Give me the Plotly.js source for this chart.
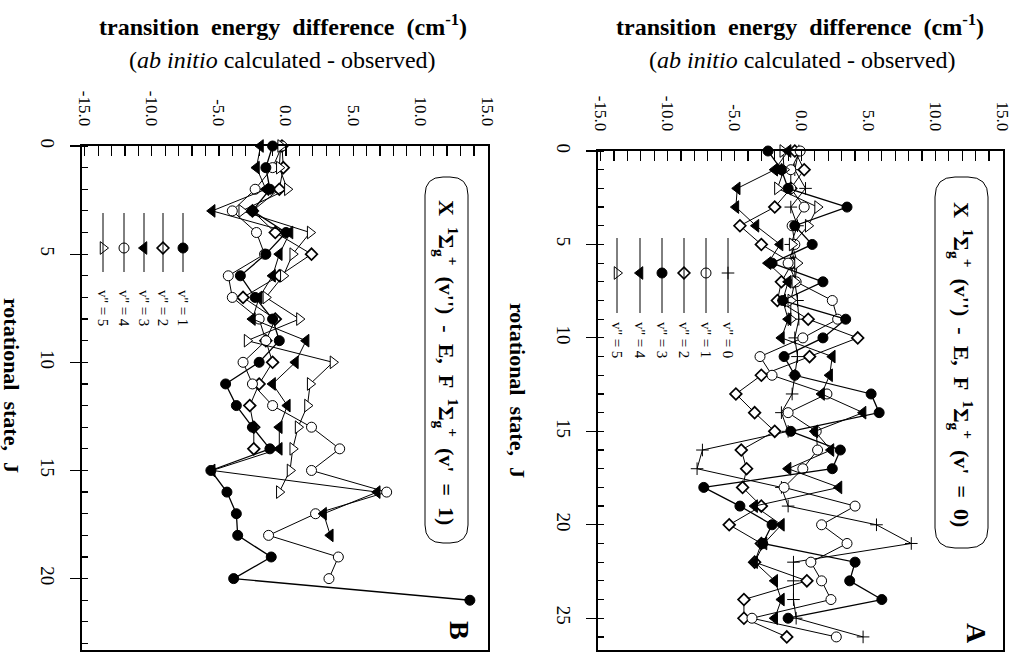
<!DOCTYPE html>
<html><head><meta charset="utf-8">
<script src="https://cdn.plot.ly/plotly-3.0.1.min.js"></script>
<style>html,body{margin:0;padding:0;background:#fff}#chart{width:1023px;height:652px}</style>
</head><body><div id="chart"></div>
<script>
// ---------- Panel B : E,F(v'=1) ----------
const jB_v1 = [0,1,2,3,4,5,6,7,8,9,10,11,12,13,14,15,16,17,18,19,20,21];
const eB_v1 = [-1.0,-1.5,-1.2,-2.5,0.0,-1.5,-3.4,-2.3,-1.0,-0.5,-2.0,-4.5,-3.7,-2.5,-1.2,-5.6,-4.4,-3.7,-3.6,-1.1,-3.9,13.7];
const jB_v2 = [0,1,2,3,4,5,6,7,8,9,10,11,12,13,14];
const eB_v2 = [-0.3,-0.2,-0.5,-2.5,-0.8,1.9,-0.5,-3.2,-0.8,-1.5,-1.0,-2.0,-2.7,-2.4,-2.4];
const jB_v3 = [0,1,2,3,4,5,6,7,8,9,10,11,12,13,14,15,16,17,18];
const eB_v3 = [-1.9,-2.2,-1.5,-5.5,0.3,-0.5,-1.0,-2.0,-2.5,1.5,0.7,-1.0,0.1,-0.5,-0.5,-5.5,6.8,2.8,3.3];
const jB_v4 = [0,1,2,3,4,5,6,7,8,9,10,11,12,13,14,15,16,17,18,19,20];
const eB_v4 = [-0.3,-1.0,-2.3,-4.0,-2.2,-1.6,-4.3,-4.0,-2.0,-1.5,-3.2,-2.5,-1.0,1.9,4.0,1.9,7.5,2.2,-1.3,3.9,3.2];
const jB_v5 = [0,1,2,3,4,5,6,7,8,9,10,11,12,13,14,15,16];
const eB_v5 = [-0.4,-0.5,0.1,-3.3,1.8,0.5,-0.2,-1.5,1.0,-2.9,3.5,1.8,1.6,0.9,0.5,0.3,-0.5];

// ---------- Panel A : E,F(v'=0) ----------
const jA_v0 = [0,1,2,3,4,5,6,7,8,9,10,11,12,13,14,15,16,17,18,19,20,21,22,23,24,25,26];
const eA_v0 = [-0.2,-0.5,0.3,-0.8,-0.3,-0.8,-0.5,-0.5,-0.3,-0.2,-0.5,-0.3,-0.5,-0.7,-1.5,-1.0,-7.4,-7.8,-1.5,-1.0,5.6,8.2,-0.6,-0.6,-0.6,-0.4,4.6];
const jA_v1 = [0,1,2,3,4,5,6,7,8,9,10,11,12,13,14,15,16,17,18,19,20,21,22,23,24,25,26];
const eA_v1 = [-0.1,-0.8,-0.8,0.2,-0.7,-0.5,-1.0,-0.4,2.3,2.7,0.1,-3.1,-2.2,1.9,-1.0,1.1,1.2,0.1,-1.3,4.0,1.5,3.4,0.7,1.5,2.2,-3.7,2.6];
const jA_v2 = [0,1,2,3,4,5,6,7,8,9,10,11,12,13,14,15,16,17,18,19,20,21,22,23,24,25,26];
const eA_v2 = [-0.5,0.2,-0.8,-2.0,-4.6,-3.0,-0.7,-1.5,-1.8,0.5,4.2,0.6,-3.0,-4.9,-3.5,-2.0,-4.5,-4.1,-4.4,-3.0,-5.4,-3.0,-3.5,0.4,-4.3,-4.3,-1.1];
const jA_v3 = [0,1,2,3,4,5,6,7,8,9,10,11,12,13,14,15,16,17,18,19,20,21,22,23,24,25];
const eA_v3 = [-2.5,-1.5,-1.0,3.4,-0.5,0.8,-2.2,1.6,-1.4,3.3,1.6,-1.3,-0.5,5.2,5.8,-0.8,2.9,2.3,-7.3,-4.6,-2.2,-2.9,4.0,3.6,6.0,-1.0];
const jA_v4 = [0,1,2,3,4,5,6,7,8,9,10,11,12,13,14,15,16,17,18,19,20,21,22,23,24,25];
const eA_v4 = [-1.0,-2.0,-4.8,-4.9,-3.4,-1.6,-2.5,-1.0,-1.4,-1.0,-1.5,2.3,2.1,1.5,4.6,1.0,2.2,-1.0,2.8,-3.5,-1.5,-2.8,-3.5,-2.0,-1.5,-2.0];
const jA_v5 = [0,1,2,3,4,5,6,7,8,9];
const eA_v5 = [-1.4,-1.3,-1.8,1.2,0.5,-0.7,-0.3,-0.5,-0.8,-0.8];

// ---------- tick labels ----------
const energyTicks = [-15,-10,-5,0,5,10,15];
const energyLabels = ['-15.0','-10.0','-5.0','0.0','5.0','10.0','15.0'];
const jTicksB = [0,5,10,15,20];
const jTicksA = [0,5,10,15,20,25];

const W = 1023, H = 652;
const px = x => x / W, py = y => 1 - y / H;
const FONT = 'Liberation Serif, Times New Roman, serif';

const sym = {
  '0': {symbol:'cross-thin-open', size:9, color:'#000', line:{color:'#000', width:1}},
  '1f': {symbol:'circle', size:10, color:'#000', line:{color:'#000', width:1}},
  'oc': {symbol:'circle', size:10, color:'#fff', line:{color:'#000', width:1}},
  'dm': {symbol:'diamond', size:9, color:'#fff', line:{color:'#000', width:1.7}},
  'tl': {symbol:'triangle-left', size:11, color:'#000', line:{color:'#000', width:1}},
  'tr': {symbol:'triangle-right', size:11, color:'#fff', line:{color:'#000', width:1}}
};

function tr(x, y, m, xa, ya, lw) {
  return {type:'scatter', mode:'lines+markers', x:x, y:y, xaxis:xa, yaxis:ya,
    line:{color:'#000', width:lw||1}, marker:m, showlegend:false, hoverinfo:'skip', cliponaxis:false};
}

const traces = [
  tr(eB_v2, jB_v2, sym.dm, 'x', 'y'),
  tr(eB_v4, jB_v4, sym.oc, 'x', 'y'),
  tr(eB_v5, jB_v5, sym.tr, 'x', 'y'),
  tr(eB_v3, jB_v3, sym.tl, 'x', 'y'),
  tr(eB_v1, jB_v1, sym['1f'], 'x', 'y', 1.3),
  tr(eA_v0, jA_v0, sym['0'], 'x2', 'y2'),
  tr(eA_v2, jA_v2, sym.dm, 'x2', 'y2'),
  tr(eA_v1, jA_v1, sym.oc, 'x2', 'y2'),
  tr(eA_v5, jA_v5, sym.tr, 'x2', 'y2'),
  tr(eA_v4, jA_v4, sym.tl, 'x2', 'y2'),
  tr(eA_v3, jA_v3, sym['1f'], 'x2', 'y2', 1.3)
];

// legends (vertical sample lines with marker)
const legB = [['1f',"v'' = 1"],['dm',"v'' = 2"],['tl',"v'' = 3"],['oc',"v'' = 4"],['tr',"v'' = 5"]];
const legBx = [183,163,144,124,103];
const legA = [['0',"v'' = 0"],['oc',"v'' = 1"],['dm',"v'' = 2"],['1f',"v'' = 3"],['tl',"v'' = 4"],['tr',"v'' = 5"]];
const legAx = [728,706,684,662,640,617];

const shapes = [];
const annotations = [];
function addLegend(items, xs, y0, y1, ym, ylab) {
  items.forEach((it, i) => {
    shapes.push({type:'line', xref:'paper', yref:'paper', x0:px(xs[i]), x1:px(xs[i]), y0:py(y0), y1:py(y1), line:{color:'#000', width:1}});
    const m = sym[it[0]];
    traces.push({type:'scatter', mode:'markers', x:[px(xs[i])], y:[py(ym)], xaxis:'x3', yaxis:'y3', marker:m, showlegend:false, hoverinfo:'skip', cliponaxis:false});
    annotations.push({xref:'paper', yref:'paper', x:px(xs[i]), y:py(ylab), text:it[1], showarrow:false, textangle:90,
      font:{family:FONT, size:15, color:'#000'}, xanchor:'center', yanchor:'middle'});
  });
}
addLegend(legB, legBx, 213, 272, 248, 308);
addLegend(legA, legAx, 238, 313, 273, 340);

function roundRect(x0, y0, x1, y1, r) {
  const rx = r / W, ry = r / H;
  const X0 = px(x0), X1 = px(x1), Y0 = py(y0), Y1 = py(y1);
  return `M ${X0+rx},${Y0} L ${X1-rx},${Y0} Q ${X1},${Y0} ${X1},${Y0-ry} L ${X1},${Y1+ry} Q ${X1},${Y1} ${X1-rx},${Y1} L ${X0+rx},${Y1} Q ${X0},${Y1} ${X0},${Y1+ry} L ${X0},${Y0-ry} Q ${X0},${Y0} ${X0+rx},${Y0} Z`;
}
shapes.push({type:'path', xref:'paper', yref:'paper', path:roundRect(425,177,468,543,18), line:{color:'#000', width:1}});
shapes.push({type:'path', xref:'paper', yref:'paper', path:roundRect(935,177,988,548,20), line:{color:'#000', width:1}});

const boxB = "<b>X  <sup>1</sup>Σ<sub>g</sub><sup>+</sup>  (v'')  -  E,  F  <sup>1</sup>Σ<sub>g</sub><sup>+</sup>  (v'  =  1)</b>";
const boxA = "<b>X  <sup>1</sup>Σ<sub>g</sub><sup>+</sup>  (v'')  -  E,  F  <sup>1</sup>Σ<sub>g</sub><sup>+</sup>  (v'  =  0)</b>";
const ttl = "<b>transition  energy  difference  (cm<sup>-1</sup>)</b>";
const sub = "(<i>ab initio</i> calculated - observed)";
const jt = "<b>rotational  state,  J</b>";

function ann(x, y, text, size, angle) {
  return {xref:'paper', yref:'paper', x:px(x), y:py(y), text:text, showarrow:false, textangle:angle||0,
    xanchor:'center', yanchor:'middle', font:{family:FONT, size:size, color:'#000'}};
}
annotations.push(
  ann(283, 25, ttl, 24), ann(282, 60, sub, 24),
  ann(800, 25, ttl, 24), ann(802, 60, sub, 24),
  ann(12, 385, jt, 22, 90), ann(518, 390, jt, 22, 90),
  ann(447, 362, boxB, 22, 90), ann(962, 364, boxA, 22, 90),
  ann(460, 630, '<b>B</b>', 28, 90), ann(977, 633, '<b>A</b>', 28, 90)
);

function eAxis(d, anchor) {
  return {domain:d, anchor:anchor, range:[-15.2,15.05], side:'top', tickvals:energyTicks, ticktext:energyLabels,
    tickangle:90, ticks:'inside', ticklen:10, tickwidth:1.2, tickcolor:'#000',
    minor:{dtick:1, tick0:0, ticks:'inside', ticklen:10, tickwidth:1.2, tickcolor:'#000'},
    showline:true, linewidth:1.8, linecolor:'#000', mirror:true, showgrid:false, zeroline:false,
    tickfont:{family:FONT, size:17, color:'#000'}, ticklabelstandoff:12, fixedrange:true};
}
function jAxis(d, anchor, range, ticks) {
  return {domain:d, anchor:anchor, range:range, tickvals:ticks, tickangle:90,
    ticks:'outside', ticklen:10, tickwidth:1.2, tickcolor:'#000',
    minor:{dtick:1, tick0:0, ticks:'inside', ticklen:6, tickwidth:1.2, tickcolor:'#000'},
    showline:true, linewidth:1.8, linecolor:'#000', mirror:true, showgrid:false, zeroline:false,
    tickfont:{family:FONT, size:19, color:'#000'}, ticklabelstandoff:6, fixedrange:true};
}

const layout = {
  width:W, height:H, margin:{l:0, r:0, t:0, b:0}, paper_bgcolor:'#fff', plot_bgcolor:'rgba(0,0,0,0)',
  showlegend:false,
  xaxis: eAxis([px(82), px(488)], 'y'),
  yaxis: jAxis([py(650), py(146)], 'x', [23.3, 0], jTicksB),
  xaxis2: eAxis([px(598), px(1003)], 'y2'),
  yaxis2: jAxis([py(650), py(151)], 'x2', [26.7, 0], jTicksA),
  xaxis3: {domain:[0,1], range:[0,1], anchor:'y3', visible:false, fixedrange:true},
  yaxis3: {domain:[0,1], range:[0,1], anchor:'x3', visible:false, fixedrange:true},
  shapes:shapes, annotations:annotations
};

Plotly.newPlot('chart', traces, layout, {staticPlot:true, displayModeBar:false});
</script></body></html>
